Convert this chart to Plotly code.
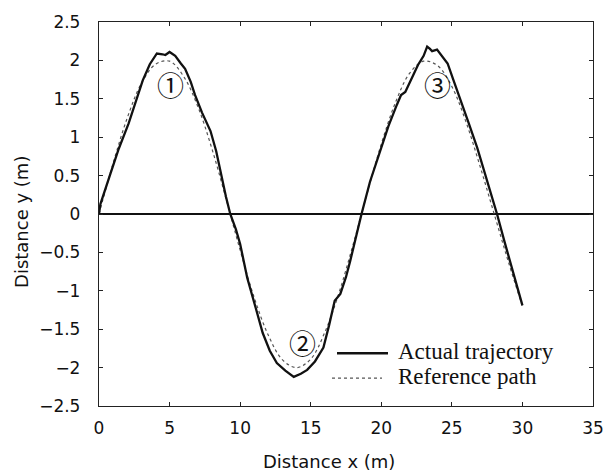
import plotly.graph_objects as go

# Actual trajectory
actual_x = [0.0, 0.1, 0.8, 1.4, 2.1, 2.6, 3.1, 3.6, 4.1, 4.5, 4.7, 5.0, 5.4, 5.8, 6.1, 6.5,
            6.8, 7.3, 7.9, 8.3, 8.6, 9.0, 9.3, 9.7, 10.0, 10.5, 11.1, 11.6, 12.1, 12.6, 13.2,
            13.8, 14.3, 14.75, 15.3, 15.9, 16.3, 16.7, 17.1, 17.5, 17.8, 18.2, 18.6, 19.2,
            19.9, 20.5, 21.1, 21.4, 21.7, 22.2, 22.6, 23.0, 23.25, 23.45, 23.6, 23.95, 24.3,
            24.7, 25.1, 25.6, 26.2, 26.8, 27.5, 28.2, 28.7, 29.15, 29.6, 30.0]
actual_y = [0.0, 0.13, 0.52, 0.85, 1.18, 1.45, 1.74, 1.95, 2.09, 2.08, 2.07, 2.11, 2.06, 1.96,
            1.89, 1.72, 1.55, 1.32, 1.08, 0.82, 0.56, 0.22, 0.0, -0.2, -0.39, -0.83, -1.22,
            -1.55, -1.78, -1.94, -2.04, -2.12, -2.08, -2.03, -1.92, -1.74, -1.45, -1.13,
            -1.04, -0.82, -0.61, -0.3, 0.0, 0.42, 0.82, 1.14, 1.42, 1.55, 1.59, 1.78, 1.94,
            2.06, 2.18, 2.15, 2.12, 2.14, 2.05, 1.96, 1.75, 1.50, 1.18, 0.86, 0.44, 0.0,
            -0.34, -0.65, -0.93, -1.19]

# Reference path
ref_x = [0, 1, 2, 3, 4, 5, 6, 7, 8, 9, 10, 11, 12, 13, 14, 15, 16, 17, 18, 19, 20,
         21, 22, 23, 24, 25, 26, 27, 28, 29, 30]
ref_y = [0.0, 0.66, 1.25, 1.70, 1.95, 1.99, 1.79, 1.40, 0.85, 0.20, -0.47, -1.09, -1.58,
         -1.90, -2.00, -1.89, -1.54, -1.03, -0.40, 0.27, 0.91, 1.45, 1.83, 1.99, 1.93,
         1.66, 1.20, 0.62, 0.0, -0.62, -1.20]

x_ticks = [0, 5, 10, 15, 20, 25, 30, 35]
y_ticks = [2.5, 2, 1.5, 1, 0.5, 0, -0.5, -1, -1.5, -2, -2.5]

labels = ["\u2460", "\u2461", "\u2462"]
label_x = [5.04, 14.45, 23.95]
label_y = [1.68, -1.67, 1.68]

legend_names = ["Actual trajectory", "Reference path"]

W, H = 616, 472
L, R, T, B = 99, 23, 20, 66
pw, ph = W - L - R, H - T - B

def px(xp):
    return (xp - L) / pw

def py(yp):
    return (H - B - yp) / ph

fig = go.Figure()
fig.add_trace(go.Scatter(x=ref_x, y=ref_y, mode="lines", name=legend_names[1],
                         line=dict(color="#555555", width=1.2, dash="dot", shape="spline"),
                         showlegend=False))
fig.add_trace(go.Scatter(x=actual_x, y=actual_y, mode="lines", name=legend_names[0],
                         line=dict(color="#111111", width=2.3),
                         showlegend=False))

ann = []
for t, xx, yy in zip(labels, label_x, label_y):
    ann.append(dict(x=xx, y=yy, xref="x", yref="y", text=t, showarrow=False,
                    font=dict(family="Noto Sans CJK JP", size=27, color="#111111")))

# axis titles
ann.append(dict(x=px(329), y=py(462), xref="paper", yref="paper", text="Distance x (m)",
                showarrow=False, xanchor="center", yanchor="middle",
                font=dict(family="DejaVu Sans", size=18, color="#111111")))
ann.append(dict(x=px(22), y=py(221), xref="paper", yref="paper", text="Distance y (m)",
                showarrow=False, xanchor="center", yanchor="middle", textangle=-90,
                font=dict(family="DejaVu Sans", size=18, color="#111111")))

# legend (custom)
ann.append(dict(x=px(396), y=py(351), xref="paper", yref="paper", text=legend_names[0],
                showarrow=False, xanchor="left", yanchor="middle",
                font=dict(family="Liberation Serif", size=23, color="#111111")))
ann.append(dict(x=px(396), y=py(376), xref="paper", yref="paper", text=legend_names[1],
                showarrow=False, xanchor="left", yanchor="middle",
                font=dict(family="Liberation Serif", size=23, color="#111111")))
shapes = [
    dict(type="line", xref="paper", yref="paper", x0=px(337), x1=px(388), y0=py(353), y1=py(353),
         line=dict(color="#111111", width=2.3)),
    dict(type="line", xref="paper", yref="paper", x0=px(332), x1=px(382), y0=py(378), y1=py(378),
         line=dict(color="#555555", width=1.2, dash="dot")),
]

axis_common = dict(showgrid=False, showline=True, linecolor="#222222", linewidth=1.3,
                   mirror="ticks", ticks="inside", ticklen=4, tickcolor="#222222",
                   tickfont=dict(family="DejaVu Sans", size=17, color="#111111"))

fig.update_layout(
    width=W, height=H,
    margin=dict(l=L, r=R, t=T, b=B),
    paper_bgcolor="white", plot_bgcolor="white",
    annotations=ann, shapes=shapes,
    xaxis=dict(range=[0, 35], tickvals=x_ticks, ticktext=[str(v) for v in x_ticks],
               zeroline=False, ticklabelstandoff=6, **axis_common),
    yaxis=dict(range=[-2.5, 2.5], tickvals=y_ticks,
               ticktext=[("\u2212" + f"{abs(v):g}") if v < 0 else f"{v:g}" for v in y_ticks],
               zeroline=True, zerolinecolor="#111111", zerolinewidth=2.4,
               ticklabelstandoff=14, **axis_common),
    showlegend=False,
)

fig.write_html("out.html")
